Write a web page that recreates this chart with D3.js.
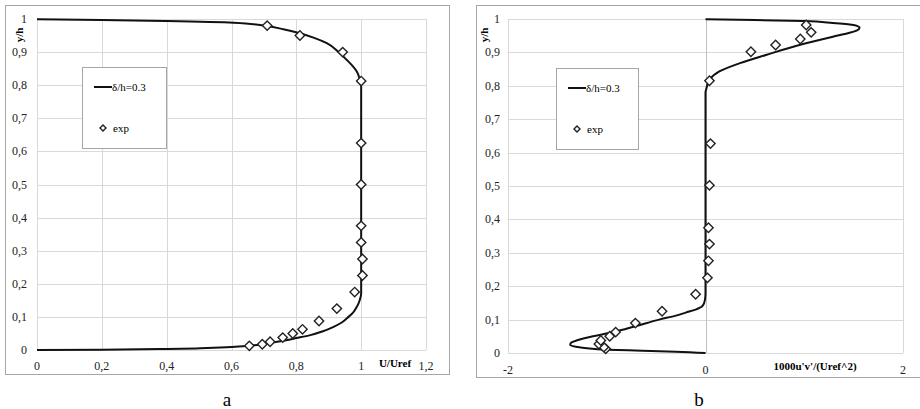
<!DOCTYPE html>
<html><head><meta charset="utf-8">
<script src="https://cdn.jsdelivr.net/npm/d3@7"></script>
<style>body{margin:0;background:#fff}svg{display:block}</style>
</head><body><svg id="c" width="920" height="409" font-family="'Liberation Serif', 'DejaVu Serif', serif"></svg>
<script>
// ---- Panel a: mean velocity profile ----
const aCurveU = [0,0.2,0.4,0.503,0.6,0.647,0.7,0.76,0.8,0.843,0.88,0.915,0.94,0.956,0.975,0.987,0.996,1.0,1.0,1.0,1.0,0.995,0.987,0.972,0.956,0.93,0.894,0.855,0.811,0.76,0.709,0.606,0.4,0.2,0];
const aCurveY = [0,0.001,0.003,0.005,0.009,0.012,0.018,0.028,0.036,0.045,0.056,0.07,0.083,0.096,0.113,0.131,0.152,0.171,0.2,0.5,0.795,0.82,0.841,0.86,0.876,0.9,0.927,0.943,0.957,0.969,0.979,0.989,0.994,0.997,0.999];
const aExpU = [0.655,0.695,0.719,0.758,0.789,0.819,0.870,0.925,0.980,1.004,1.004,1.0,1.0,1.0,1.0,1.0,0.943,0.811,0.71];
const aExpY = [0.0125,0.0175,0.025,0.0375,0.05,0.0625,0.0875,0.125,0.175,0.225,0.275,0.325,0.375,0.5,0.625,0.8125,0.9,0.95,0.98];
const aXTicks = [0,0.2,0.4,0.6,0.8,1,1.2];
const aXLabels = ["0","0,2","0,4","0,6","0,8","1","1,2"];
// ---- Panel b: Reynolds stress profile ----
const bCurveV = [0,-0.3,-0.64,-1.0,-1.2,-1.3,-1.37,-1.36,-1.3,-1.14,-0.94,-0.70,-0.47,-0.3,-0.2,-0.1,-0.03,-0.005,0,0,0,0.01,0.04,0.14,0.35,0.62,0.95,1.29,1.45,1.53,1.56,1.50,1.29,0.99,0.5,0];
const bCurveY = [0,0.004,0.007,0.01,0.014,0.018,0.025,0.031,0.038,0.05,0.062,0.081,0.1,0.112,0.121,0.13,0.141,0.16,0.18,0.5,0.78,0.793,0.818,0.843,0.868,0.893,0.922,0.947,0.958,0.965,0.974,0.982,0.988,0.994,0.997,0.999];
const bExpV = [-1.01,-1.03,-1.08,-1.06,-0.97,-0.91,-0.71,-0.44,-0.10,0.02,0.03,0.04,0.03,0.04,0.05,0.04,0.46,0.71,0.96,1.07,1.02];
const bExpY = [0.0125,0.0175,0.027,0.0375,0.05,0.0625,0.0895,0.125,0.176,0.225,0.276,0.326,0.375,0.502,0.627,0.815,0.902,0.922,0.94,0.96,0.982];
const bXTicks = [-2,0,2];
const bXLabels = ["-2","0","2"];
const yTicks = [0,0.1,0.2,0.3,0.4,0.5,0.6,0.7,0.8,0.9,1];
const yLabels = ["0","0,1","0,2","0,3","0,4","0,5","0,6","0,7","0,8","0,9","1"];
const legendLine = "δ/h=0.3", legendExp = "exp";

const svg = d3.select("#c");
const grid = "#d9d9d9", frame = "#a6a6a6";

function panel(o){
  const g = svg.append("g");
  g.append("rect").attr("x",o.frame[0]).attr("y",o.frame[1]).attr("width",o.frame[2]).attr("height",o.frame[3])
    .attr("fill","#fff").attr("stroke",frame).attr("stroke-width",1);
  const x = d3.scaleLinear().domain(o.xd).range(o.xr);
  const y = d3.scaleLinear().domain([0,1]).range(o.yr);
  g.append("g").selectAll("line").data(yTicks).join("line")
    .attr("x1",o.xr[0]).attr("x2",o.xr[1]).attr("y1",d=>Math.round(y(d))+0.5).attr("y2",d=>Math.round(y(d))+0.5)
    .attr("stroke",grid).attr("stroke-width",1);
  g.append("g").selectAll("line").data(o.xt).join("line")
    .attr("x1",d=>Math.round(x(d))+0.5).attr("x2",d=>Math.round(x(d))+0.5).attr("y1",o.yr[0]).attr("y2",o.yr[1])
    .attr("stroke",d=>d===0&&o.xd[0]<0?"#bfbfbf":grid).attr("stroke-width",1);
  g.append("g").selectAll("text").data(yTicks).join("text")
    .attr("x",o.ylx).attr("y",d=>y(d)+4).attr("text-anchor","end").attr("font-size",12).attr("fill","#222")
    .text((d,i)=>yLabels[i]);
  g.append("g").selectAll("text").data(o.xt).join("text")
    .attr("x",d=>x(d)).attr("y",o.xly).attr("text-anchor","middle").attr("font-size",12).attr("fill","#222")
    .text((d,i)=>o.xl[i]);
  g.append("text").attr("transform",`translate(${o.yt[0]},${o.yt[1]}) rotate(-90)`).attr("text-anchor","middle")
    .attr("font-size",11).attr("font-weight","bold").text("y/h");
  g.append("text").attr("x",o.xtt[0]).attr("y",o.xtt[1]).attr("text-anchor","middle")
    .attr("font-size",11).attr("font-weight","bold").text(o.xtitle);
  const pts = o.cx.map((v,i)=>[v,o.cy[i]]);
  g.append("path").datum(pts).attr("fill","none").attr("stroke","#111").attr("stroke-width",2)
    .attr("d",d3.line().x(d=>x(d[0])).y(d=>y(d[1])).curve(d3.curveMonotoneY));
  const sym = d3.symbol().type(d3.symbolSquare).size(44);
  const ep = o.ex.map((v,i)=>[v,o.ey[i]]);
  g.append("g").selectAll("path").data(ep).join("path")
    .attr("transform",d=>`translate(${x(d[0])},${y(d[1])}) rotate(45)`).attr("d",sym())
    .attr("fill","#fff").attr("stroke","#222").attr("stroke-width",1.4);
  const L = o.leg;
  g.append("rect").attr("x",L[0]+0.5).attr("y",L[1]+0.5).attr("width",L[2]).attr("height",L[3])
    .attr("fill","#fff").attr("stroke",frame);
  g.append("line").attr("x1",L[0]+12).attr("x2",L[0]+30).attr("y1",L[1]+20).attr("y2",L[1]+20)
    .attr("stroke","#111").attr("stroke-width",2);
  g.append("text").attr("x",L[0]+30).attr("y",L[1]+24).attr("font-size",11).text(legendLine);
  g.append("path").attr("transform",`translate(${L[0]+21},${L[1]+61}) rotate(45)`).attr("d",d3.symbol().type(d3.symbolSquare).size(18)())
    .attr("fill","#fff").attr("stroke","#222").attr("stroke-width",1.4);
  g.append("text").attr("x",L[0]+31).attr("y",L[1]+65).attr("font-size",11).text(legendExp);
  g.append("text").attr("x",o.letter[0]).attr("y",o.letter[1]).attr("text-anchor","middle").attr("font-size",19).text(o.letter[2]);
}

panel({frame:[5.5,5.5,444,369], xd:[0,1.2], xr:[37,426], yr:[350,19], xt:aXTicks, xl:aXLabels,
  ylx:27, xly:370, yt:[23,35], xtt:[395,367], xtitle:"U/Uref",
  cx:aCurveU, cy:aCurveY, ex:aExpU, ey:aExpY, leg:[82,67,84,81], letter:[227,406,"a"]});
panel({frame:[476.5,5.5,460,372], xd:[-2,2], xr:[508,903], yr:[353,19], xt:bXTicks, xl:bXLabels,
  ylx:500, xly:374, yt:[488,35], xtt:[815,370], xtitle:"1000u'v'/(Uref^2)",
  cx:bCurveV, cy:bCurveY, ex:bExpV, ey:bExpY, leg:[556,68,82,81], letter:[699,406,"b"]});
</script></body></html>
